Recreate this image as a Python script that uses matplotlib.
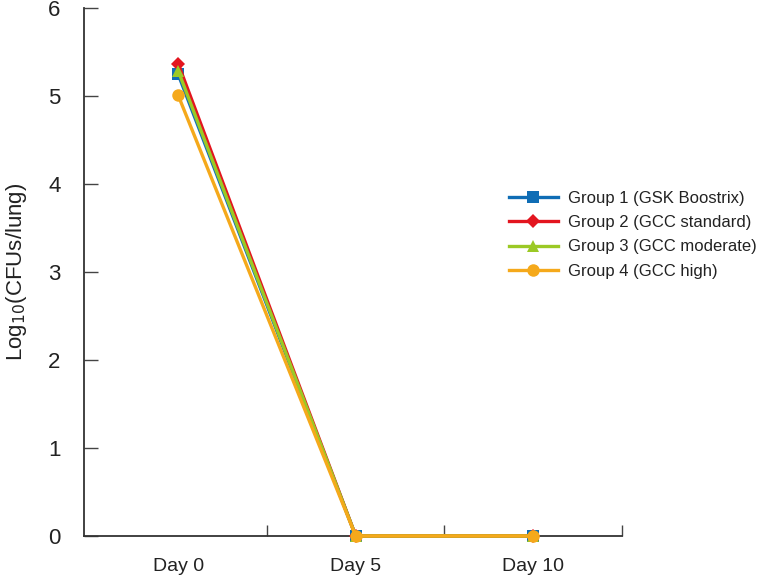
import matplotlib.pyplot as plt
import numpy as np

plt.rcParams['font.family'] = ['Liberation Sans', 'DejaVu Sans']

# Data
days = ["Day 0", "Day 5", "Day 10"]
group1 = [5.25, 0.0, 0.0]
group2 = [5.37, 0.0, 0.0]
group3 = [5.29, 0.0, 0.0]
group4 = [5.01, 0.0, 0.0]
labels = ["Group 1 (GSK Boostrix)", "Group 2 (GCC standard)",
          "Group 3 (GCC moderate)", "Group 4 (GCC high)"]

colors = ['#0f6db5', '#e3151f', '#9bc925', '#f5a91b']
markers = ['s', 'D', '^', 'o']
msizes = [8, 7, 8, 9]

fig = plt.figure(figsize=(7.65, 5.81), dpi=100)
ax = fig.add_axes([0.110, 0.0775, 0.703, 0.908])

x = np.arange(len(days))
for vals, lab, c, m, ms in zip([group1, group2, group3, group4], labels, colors, markers, msizes):
    ax.plot(x, vals, color=c, marker=m, markersize=ms, linewidth=2.4, label=lab,
            markeredgewidth=0, clip_on=False, zorder=3)

ax.set_xlim(-0.53, 2.5)
ax.set_ylim(0, 6)
ax.set_yticks(range(0, 7))
ax.set_xticks(x)
ax.set_xticklabels(days)
ax.set_xticks([0.5, 1.5, 2.5], minor=True)

ax.tick_params(axis='x', which='major', length=0, pad=16, labelsize=14, colors='#222222')
ax.tick_params(axis='x', which='minor', direction='in', length=8, width=1, color='#444444')
ax.tick_params(axis='y', direction='in', length=10, width=1, pad=17, labelsize=16,
               color='#444444', labelcolor='#222222')

for side in ['top', 'right']:
    ax.spines[side].set_visible(False)
for side in ['left', 'bottom']:
    ax.spines[side].set_color('#333333')
    ax.spines[side].set_linewidth(1.3)

ax.set_ylabel("Log$_{10}$(CFUs/lung)", fontsize=16, color='#222222', labelpad=14)

leg = fig.legend(loc='upper left', bbox_to_anchor=(0.646, 0.697), frameon=False,
                 fontsize=12, handlelength=2.9, handletextpad=0.6, labelspacing=0.55)
for t in leg.get_texts():
    t.set_color('#222222')

fig.savefig('out.png', dpi=100)
